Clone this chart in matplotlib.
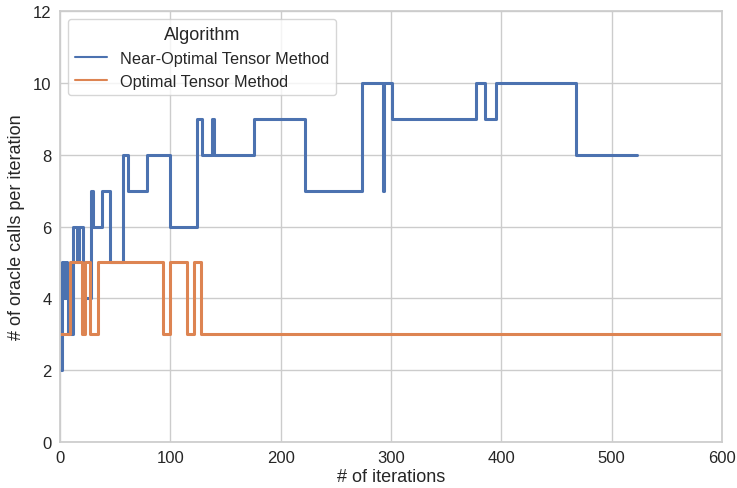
import matplotlib
matplotlib.use("Agg")
import matplotlib.pyplot as plt
import seaborn as sns

sns.set_theme(style="whitegrid")
plt.rcParams['font.family'] = ['Liberation Sans', 'DejaVu Sans']

# Near-Optimal Tensor Method: iteration at which value changes, and the value
near_iters = [1, 2, 4, 5, 6, 7, 12, 15, 17, 21, 28, 30, 38, 45, 57, 62, 79, 100,
              124, 129, 138, 140, 176, 222, 274, 293, 294, 301, 377, 385, 395, 468, 523]
near_vals = [2, 5, 4, 5, 4, 3, 6, 5, 6, 4, 7, 6, 7, 5, 8, 7, 8, 6,
             9, 8, 9, 8, 9, 7, 10, 7, 10, 9, 10, 9, 10, 8, 8]

# Optimal Tensor Method
opt_iters = [1, 9, 20, 23, 27, 34, 93, 100, 115, 121, 128, 600]
opt_vals = [3, 5, 3, 5, 3, 5, 3, 5, 3, 5, 3, 3]

fig = plt.figure(figsize=(7.37, 4.89), dpi=100)
ax = fig.add_axes([0.0814, 0.094, 0.8983, 0.8815])

ax.plot(near_iters, near_vals, drawstyle='steps-post', color='#4C72B0', lw=2.2,
        label='Near-Optimal Tensor Method')
ax.plot(opt_iters, opt_vals, drawstyle='steps-post', color='#DD8452', lw=2.2,
        label='Optimal Tensor Method')

ax.set_xlim(0, 600)
ax.set_ylim(0, 12)
ax.set_xticks([0, 100, 200, 300, 400, 500, 600])
ax.set_yticks([0, 2, 4, 6, 8, 10, 12])
ax.tick_params(labelsize=12, length=0, pad=6)
ax.set_xlabel('# of iterations', fontsize=13, labelpad=2)
ax.set_ylabel('# of oracle calls per iteration', fontsize=13, labelpad=6)

leg = ax.legend(title='Algorithm', loc='upper left', fontsize=11.7, title_fontsize=13)
for line in leg.get_lines():
    line.set_linewidth(1.5)

fig.savefig('out.png', dpi=100)
